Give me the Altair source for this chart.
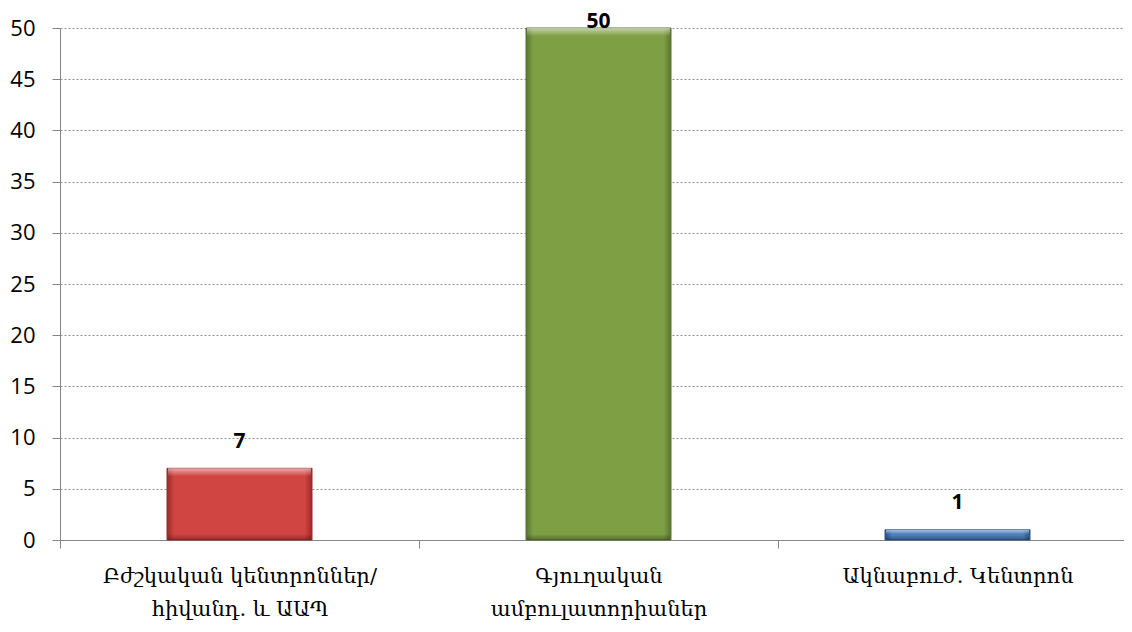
import altair as alt
import pandas as pd

categories = ["Բժշկական կենտրոններ/\nհիվանդ. և ԱԱՊ", "Գյուղական\nամբուլատորիաներ", "Ակնաբուժ. Կենտրոն"]
values = [7, 50, 1]
y_ticks = [0, 5, 10, 15, 20, 25, 30, 35, 40, 45, 50]
# (edge, main, light) colours per bar
palettes = [("#9c2a28", "#d04442", "#e87f7d"),
            ("#5b7530", "#7f9f45", "#b0cc80"),
            ("#2c5487", "#4a7ebb", "#8fb2e0")]

df = pd.DataFrame({"cat": categories, "value": values, "idx": list(range(len(categories)))})

PLOT_H = 512

x_enc = alt.X("cat:N", sort=categories,
              scale=alt.Scale(range=[0, 1077], paddingInner=0, paddingOuter=0),
              axis=alt.Axis(title=None, labelAngle=0, tickBand="extent",
                            labelExpr="split(datum.label, '\\n')",
                            labelFont="DejaVu Serif, Noto Sans, DejaVu Sans", labelFontSize=21,
                            labelColor="#000", labelLimit=0,
                            labelPadding=17, labelLineHeight=33, tickSize=8,
                            tickColor="#868686", domainColor="#868686", grid=False))

y_scale = alt.Scale(domain=[0, 50], nice=False)
y_axis = alt.Axis(title=None, values=y_ticks, labelFont="Open Sans", labelFontSize=22,
                  labelColor="#000", labelPadding=17, tickSize=8, tickColor="#868686",
                  domainColor="#868686", gridColor="#8f8f8f", gridDash=[2, 2], gridWidth=1)

layers = []
for i, (v, (edge, main, light)) in enumerate(zip(values, palettes)):
    base = alt.Chart(df).transform_filter(alt.datum.idx == i)
    layers.append(base.mark_bar(
        size=145, stroke=edge, strokeWidth=1,
        fill=alt.Gradient(gradient="linear", x1=0, x2=1, y1=0, y2=0, stops=[
            alt.GradientStop(offset=0, color=edge),
            alt.GradientStop(offset=0.05, color=main),
            alt.GradientStop(offset=0.95, color=main),
            alt.GradientStop(offset=1, color=edge)])
    ).encode(x=x_enc, y=alt.Y("value:Q", scale=y_scale, axis=y_axis)))
    hpx = v * PLOT_H / 50.0
    t = min(0.45, 8.0 / hpx)
    b = max(0.55, 1 - 6.0 / hpx)
    layers.append(base.mark_bar(
        size=143,
        fill=alt.Gradient(gradient="linear", x1=0, x2=0, y1=0, y2=1, stops=[
            alt.GradientStop(offset=0, color="rgba(255,255,255,0.55)"),
            alt.GradientStop(offset=t, color="rgba(255,255,255,0.0)"),
            alt.GradientStop(offset=b, color="rgba(0,0,0,0.0)"),
            alt.GradientStop(offset=1, color="rgba(0,0,0,0.30)")])
    ).encode(x=x_enc, y=alt.Y("value:Q", scale=y_scale, axis=y_axis)))

text = alt.Chart(df).transform_calculate(ly="min(datum.value + 2, 50)").mark_text(
    font="Open Sans", fontWeight="bold", fontSize=21, baseline="alphabetic", color="#000"
).encode(x=x_enc, y=alt.Y("ly:Q", scale=y_scale, axis=y_axis), text="value:Q")

chart = alt.layer(*layers, text).properties(
    width=1064, height=PLOT_H,
    padding={"left": 52, "top": 20, "right": 0, "bottom": 84},
    autosize="none",
).configure_view(stroke=None)

chart.save("out.html", embed_options={"renderer": "svg", "actions": False})
